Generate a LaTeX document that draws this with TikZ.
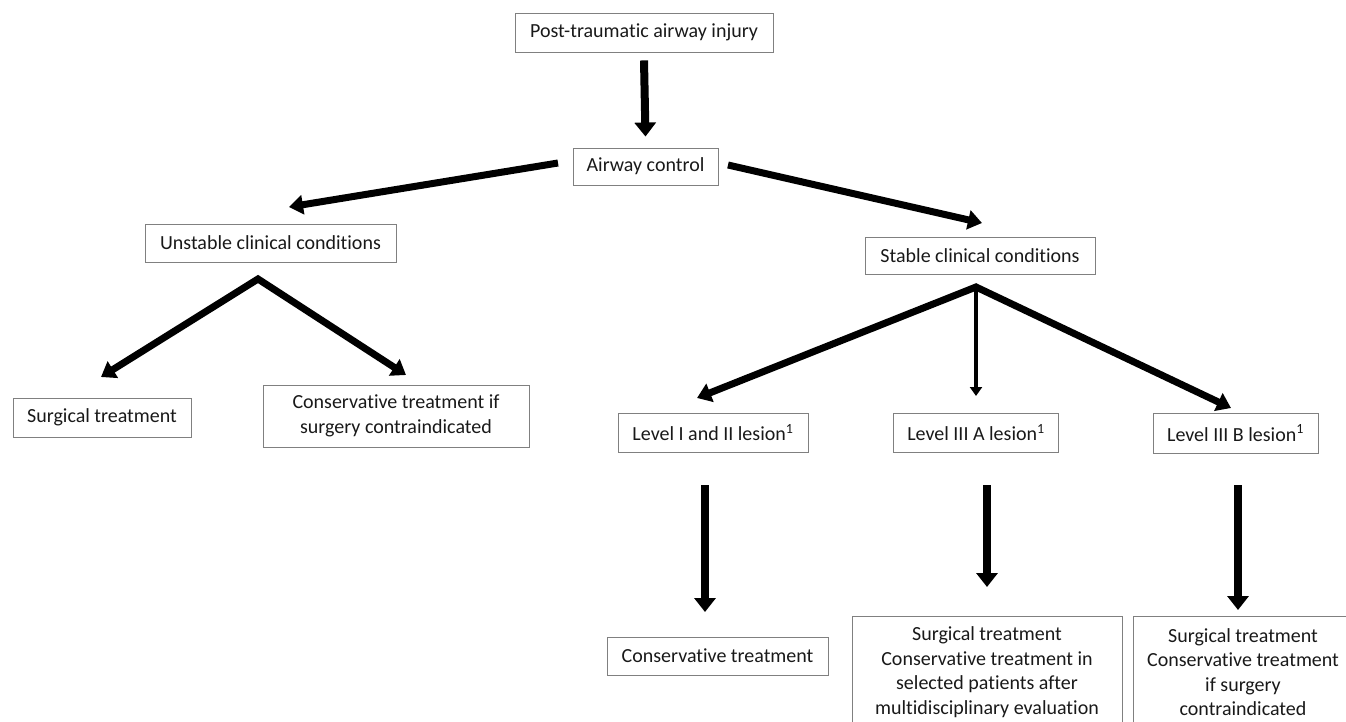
\documentclass[tikz,border=0pt]{standalone}
\usepackage{fontspec}
\setmainfont{Carlito}[Ligatures=NoCommon]
\usetikzlibrary{arrows.meta}
\tikzset{
  box/.style={draw=black!50, line width=0.9pt, inner sep=0pt, align=center,
    font=\fontsize{20}{24.5}\selectfont, text=black!90},
  bigarrow/.style={line width=8pt, -{Triangle[width=21pt,length=14pt]}},
  medarrow/.style={line width=7pt, -{Triangle[width=19pt,length=14pt]}},
  fork/.style={line width=7pt, line join=miter,
    {Triangle[width=19pt,length=14pt]}-{Triangle[width=19pt,length=14pt]}},
  thinarrow/.style={line width=4.5pt, -{Triangle[width=12pt,length=9pt]}},
}
\begin{document}
\begin{tikzpicture}[x=1pt,y=-1pt]
\useasboundingbox (0,0) rectangle (1346,722);
\clip (0,0) rectangle (1346,722);
% nodes
\node[box, minimum width=258pt, minimum height=39pt] (inj) at (644,32.5) {Post-traumatic airway injury};
\node[box, minimum width=145pt, minimum height=37pt] (ac) at (645.5,166.5) {Airway control};
\node[box, minimum width=251pt, minimum height=38pt] (uns) at (270.5,243) {Unstable clinical conditions};
\node[box, minimum width=178pt, minimum height=39pt] (surg) at (102,417.5) {Surgical treatment};
\node[box, minimum width=266pt, minimum height=62pt] (consif) at (396,416) {Conservative treatment if\\surgery contraindicated};
\node[box, minimum width=230pt, minimum height=37pt] (stab) at (980,255.5) {Stable clinical conditions};
\node[box, minimum width=190pt, minimum height=39pt] (l12) at (713,432.5) {Level I and II lesion\textsuperscript{1}};
\node[box, minimum width=165pt, minimum height=39pt] (l3a) at (976,432.5) {Level III A lesion\textsuperscript{1}};
\node[box, minimum width=165pt, minimum height=40pt] (l3b) at (1235.5,433) {Level III B lesion\textsuperscript{1}};
\node[box, minimum width=221pt, minimum height=38pt] (ct) at (717.5,656) {Conservative treatment};
\node[box, minimum width=270pt, minimum height=112pt] (b2) at (987,672) {Surgical treatment\\Conservative treatment in\\selected patients after\\multidisciplinary evaluation};
\node[box, minimum width=220pt, minimum height=112pt] (b3) at (1243,672) {Surgical treatment\\Conservative treatment\\if surgery\\contraindicated};
% coordinates for arrow ends
\coordinate (acL) at (558,163);
\coordinate (acR) at (728,165);
\coordinate (unsT) at (289,207);
\coordinate (stabT) at (982,223);
\coordinate (uA) at (258,279);
\coordinate (uL) at (101,377);
\coordinate (uR) at (406,375);
\coordinate (sA) at (976,287);
\coordinate (sL) at (697,398);
\coordinate (sM) at (976,396);
\coordinate (sR) at (1231,408);
\coordinate (d1s) at (705,485);
\coordinate (d1e) at (705,612);
\coordinate (d2s) at (987,485);
\coordinate (d2e) at (987,587);
\coordinate (d3s) at (1238,485);
\coordinate (d3e) at (1238,610);
% arrows
\draw[bigarrow] ([yshift=-8pt]inj.south) -- ([yshift=11pt]ac.north);
\draw[medarrow] (acL) -- (unsT);
\draw[medarrow] (acR) -- (stabT);
\draw[fork] (uL) -- (uA) -- (uR);
\draw[fork] (sL) -- (sA) -- (sR);
\draw[thinarrow] (sA) -- (sM);
\draw[bigarrow] (d1s) -- (d1e);
\draw[bigarrow] (d2s) -- (d2e);
\draw[bigarrow] (d3s) -- (d3e);
\end{tikzpicture}
\end{document}
